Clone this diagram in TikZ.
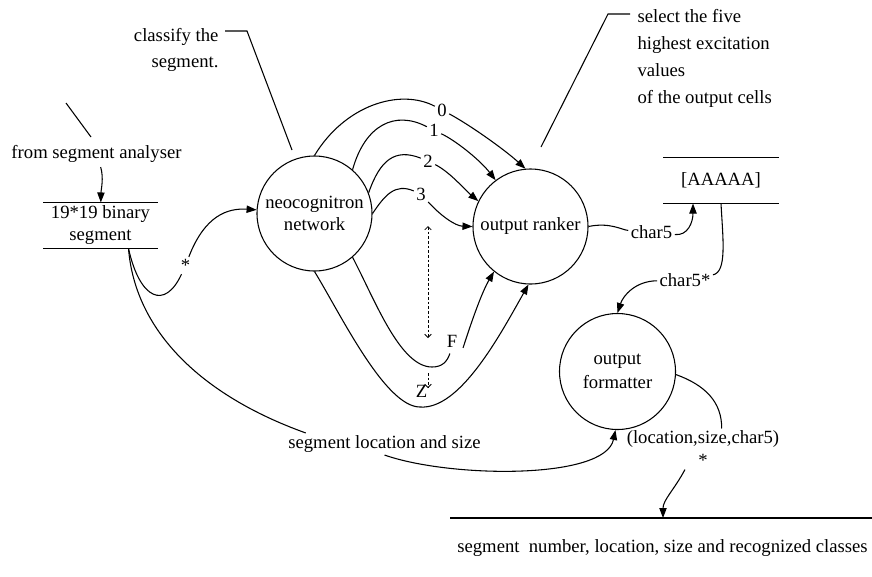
\documentclass[tikz,border=0pt]{standalone}
\usepackage{fontspec}
\setmainfont{Liberation Serif}
\usetikzlibrary{arrows.meta}
\begin{document}
\begin{tikzpicture}[x=0.75pt,y=-0.75pt,
  line width=0.8pt,
  every node/.style={font=\fontsize{14}{16.5}\selectfont},
  proc/.style={circle,draw,minimum size=86.25pt,inner sep=0pt,align=center},
  datastore/.style={minimum width=85pt,minimum height=33.75pt,inner sep=0pt,align=center},
  lbl/.style={inner sep=1.5pt},
  flow/.style={-{Triangle[length=7.5pt,width=5.5pt]}},
  hint/.style={dash pattern=on 2pt off 1.5pt,line width=0.6pt},
  hintboth/.style={hint,{Straight Barb[length=2.5pt,width=5pt]}-{Straight Barb[length=2.5pt,width=5pt]}},
  hintend/.style={hint,-{Straight Barb[length=2.5pt,width=5pt]}},
]
\useasboundingbox (0,0) rectangle (872,576);

% processes
\node[proc] (neo) at (314.5,213.5) {neocognitron\\network};
\node[proc] (rank) at (530.5,226.5) {output ranker};
\node[proc,minimum size=87pt] (fmt) at (617.5,371.5) {output\\[1.5pt]formatter};

% data stores
\node[datastore] (seg) at (100.5,225.5) {19*19 binary\\segment};
\draw (seg.north west) -- (seg.north east) (seg.south west) -- (seg.south east);
\node[datastore,minimum width=85.5pt] (buf) at (721,180.5) {[AAAAA]};
\draw (buf.north west) -- (buf.north east) (buf.south west) -- (buf.south east);
\node (outs) at (662.5,548.5) {segment\ \ number, location, size and recognized classes};
\coordinate (outL) at (450,518);
\coordinate (outR) at (872,518);
\coordinate (outin) at (663,518);
\draw (outL) -- (outR);

% annotations
\node[anchor=east,align=right,inner sep=0pt,font=\fontsize{14}{19.5}\selectfont] (cls) at (219,50) {classify the\\segment.};
\draw (225,31) -- (247,31) -- (292,150);
\node[anchor=west,align=left,inner sep=0pt,font=\fontsize{14}{20.25}\selectfont] (sel) at (637,58.5) {select the five\\highest excitation\\values\\of the output cells};
\draw (541,147) -- (608,14) -- (630,14);
\node (from) at (96.5,153.5) {from segment analyser};
\draw (66,103) -- (91,137);

% input segment
\draw[flow] (from) .. controls (104,178) and (101,190) .. (seg);
\coordinate (segout) at ([xshift=21pt]seg.south);
\node[lbl] (lstar) at (185.5,265.5) {*};
\draw (segout) .. controls (140,300) and (165,310) .. (lstar);
\draw[flow] (lstar) .. controls (205,215) and (228,208) .. (neo);

% classes 0..3
\node[lbl] (l0) at (442,110) {0};
\node[lbl] (l1) at (434,130.5) {1};
\node[lbl] (l2) at (428,161) {2};
\node[lbl] (l3) at (421,194) {3};
\draw (neo.north) .. controls (345,105) and (400,88) .. (l0);
\draw[flow] (l0) .. controls (470,125) and (505,150) .. (rank.95);
\draw (neo.49) .. controls (365,125) and (395,110) .. (l1);
\draw[flow] (l1) .. controls (455,140) and (480,160) .. (rank.127);
\draw (neo.21) .. controls (380,160) and (395,148) .. (l2);
\draw[flow] (l2) .. controls (450,172) and (465,190) .. (rank.154);
\draw (neo.east) .. controls (385,195) and (395,183) .. (l3);
\draw[flow] (l3) .. controls (440,215) and (455,226) .. (rank.west);

% classes F and Z
\node[lbl,inner sep=4pt] (lF) at (452,341.5) {F};
\coordinate (fb) at (432,367);
\draw (neo.-49) .. controls (375,300) and (400,367) .. (fb) .. controls (442,367) and (447,362) .. (lF.-100);
\draw[flow] (lF.-30) .. controls (472,320) and (482,292) .. (rank.231);
\node[lbl] (lZ) at (421.5,391.5) {Z};
\coordinate (zb) at (420,407);
\draw[flow] (neo.south) .. controls (340,313) and (385,407) .. (zb) .. controls (460,410) and (500,335) .. (rank.-92);

% omitted classes
\coordinate (dtop) at (428,226);
\coordinate (dbot) at (428,338);
\coordinate (ztop) at (428,373);
\coordinate (zarr) at (428,388);
\draw[hintboth] (dtop) -- (dbot);
\draw[hintend] (ztop) -- (zarr);

% ranked characters
\node[lbl] (lc5) at (651.5,232) {char5};
\draw (rank.east) .. controls (610,222) and (622,230) .. (lc5);
\draw[flow] (lc5) .. controls (688,236) and (693,222) .. ([xshift=-21pt]buf.south);
\node[lbl] (lc5s) at (685,280.5) {char5*};
\draw (buf.south) .. controls (723,240) and (727,272) .. (lc5s);
\draw[flow] (lc5s) .. controls (635,281) and (623,296) .. (fmt.north);

% location and size
\node[lbl] (lloc) at (384.5,444) {segment location and size};
\draw (segout) .. controls (135,330) and (200,395) .. ([xshift=15pt]lloc.north west);
\draw[flow] (lloc.south) .. controls (450,478) and (605,480) .. (fmt.-92);

% output
\node[lbl,align=center,font=\fontsize{14}{17.25}\selectfont] (lout) at (703,449) {(location,size,char5)\\*};
\draw (fmt.-3) .. controls (705,385) and (722,402) .. ([xshift=14pt]lout.north);
\draw[flow] ([xshift=-13.5pt]lout.south) .. controls (674,490) and (663,500) .. (outin);
\end{tikzpicture}
\end{document}
